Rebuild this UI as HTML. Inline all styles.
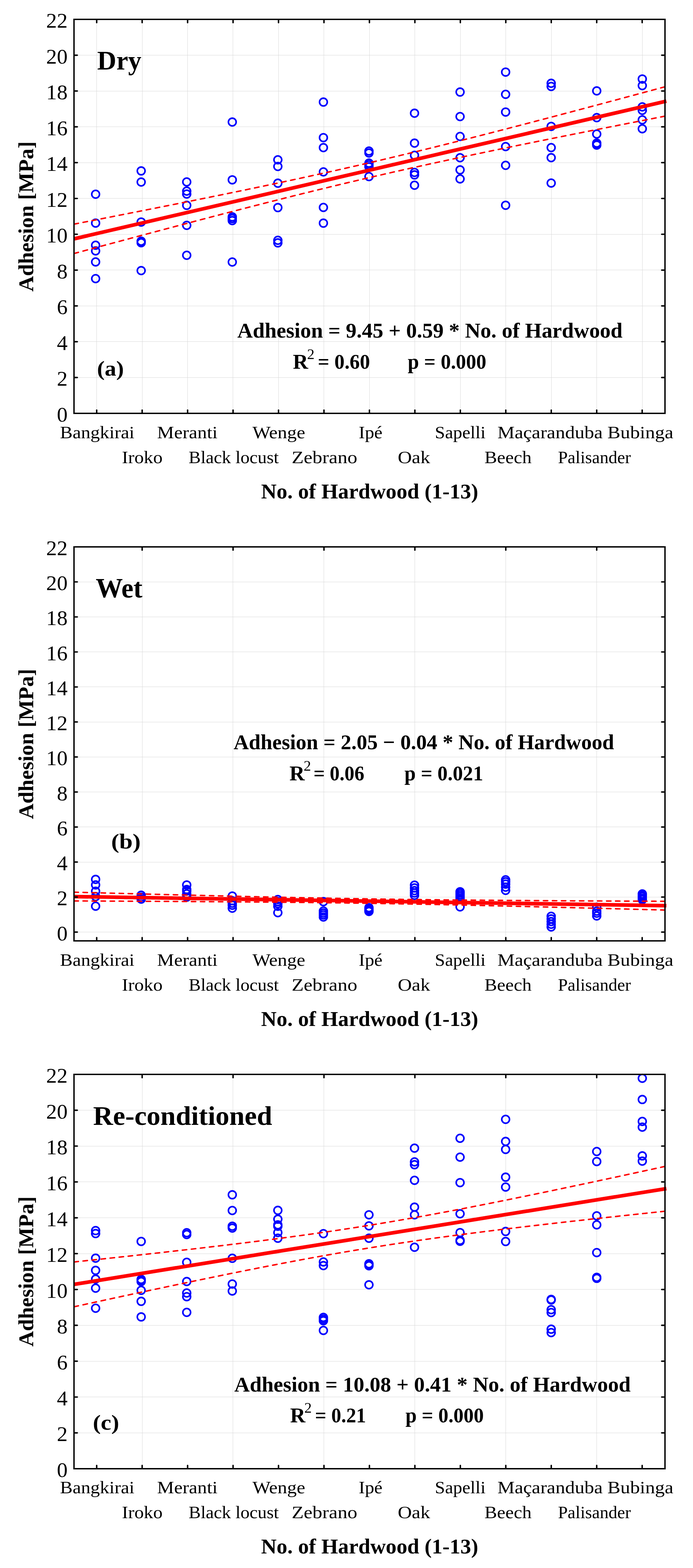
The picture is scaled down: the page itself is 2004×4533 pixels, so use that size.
<!DOCTYPE html>
<html><head><meta charset="utf-8"><title>Adhesion vs. hardwood species</title>
<style>
html,body{margin:0;padding:0;background:#fff;}
svg{display:block;}
text{font-family:"Liberation Serif","DejaVu Serif",serif;fill:#000;}
.yt{font-size:62px;text-anchor:end;}
</style></head><body>
<svg width="2004" height="4533" viewBox="0 0 2004 4533">
<rect x="0" y="0" width="2004" height="4533" fill="#fff"/>
<defs><clipPath id="pc"><rect x="216" y="0" width="1705" height="4533"/></clipPath></defs>
<path d="M279.5 56V1195M411.5 56V1195M542.5 56V1195M673.5 56V1195M805.5 56V1195M936.5 56V1195M1068.5 56V1195M1199.5 56V1195M1331.5 56V1195M1462.5 56V1195M1594.5 56V1195M1725.5 56V1195M1857.5 56V1195M214 1091.5H1923M214 987.5H1923M214 884.5H1923M214 780.5H1923M214 677.5H1923M214 573.5H1923M214 470.5H1923M214 366.5H1923M214 263.5H1923M214 159.5H1923" stroke="#d6d6d6" stroke-width="1.0" fill="none"/>
<g fill="none" stroke="#0000ff" stroke-width="4.6"><circle cx="276.5" cy="561.5" r="11.2"/><circle cx="276.5" cy="644.9" r="11.2"/><circle cx="276.5" cy="709" r="11.2"/><circle cx="276.5" cy="725.3" r="11.2"/><circle cx="276.5" cy="757.2" r="11.2"/><circle cx="276.5" cy="805.5" r="11.2"/><circle cx="408.24" cy="494.1" r="11.2"/><circle cx="408.24" cy="526.3" r="11.2"/><circle cx="408.24" cy="641.9" r="11.2"/><circle cx="408.24" cy="697.3" r="11.2"/><circle cx="408.24" cy="701.7" r="11.2"/><circle cx="408.24" cy="782.3" r="11.2"/><circle cx="539.98" cy="526" r="11.2"/><circle cx="539.98" cy="552.5" r="11.2"/><circle cx="539.98" cy="561" r="11.2"/><circle cx="539.98" cy="593.6" r="11.2"/><circle cx="539.98" cy="651.5" r="11.2"/><circle cx="539.98" cy="738" r="11.2"/><circle cx="671.72" cy="352.8" r="11.2"/><circle cx="671.72" cy="519.9" r="11.2"/><circle cx="671.72" cy="627.1" r="11.2"/><circle cx="671.72" cy="632" r="11.2"/><circle cx="671.72" cy="637.8" r="11.2"/><circle cx="671.72" cy="757.5" r="11.2"/><circle cx="803.46" cy="462" r="11.2"/><circle cx="803.46" cy="481.3" r="11.2"/><circle cx="803.46" cy="529.6" r="11.2"/><circle cx="803.46" cy="600.1" r="11.2"/><circle cx="803.46" cy="694.7" r="11.2"/><circle cx="803.46" cy="702.1" r="11.2"/><circle cx="935.2" cy="295.1" r="11.2"/><circle cx="935.2" cy="397.9" r="11.2"/><circle cx="935.2" cy="426.8" r="11.2"/><circle cx="935.2" cy="497" r="11.2"/><circle cx="935.2" cy="599.7" r="11.2"/><circle cx="935.2" cy="645.1" r="11.2"/><circle cx="1066.94" cy="436.7" r="11.2"/><circle cx="1066.94" cy="442.3" r="11.2"/><circle cx="1066.94" cy="471.6" r="11.2"/><circle cx="1066.94" cy="476.7" r="11.2"/><circle cx="1066.94" cy="482.3" r="11.2"/><circle cx="1066.94" cy="510.5" r="11.2"/><circle cx="1198.68" cy="327.3" r="11.2"/><circle cx="1198.68" cy="413.8" r="11.2"/><circle cx="1198.68" cy="449" r="11.2"/><circle cx="1198.68" cy="498.5" r="11.2"/><circle cx="1198.68" cy="505.6" r="11.2"/><circle cx="1198.68" cy="535.5" r="11.2"/><circle cx="1330.42" cy="266.1" r="11.2"/><circle cx="1330.42" cy="337" r="11.2"/><circle cx="1330.42" cy="394.5" r="11.2"/><circle cx="1330.42" cy="456" r="11.2"/><circle cx="1330.42" cy="491.1" r="11.2"/><circle cx="1330.42" cy="517.2" r="11.2"/><circle cx="1462.16" cy="208.4" r="11.2"/><circle cx="1462.16" cy="272.7" r="11.2"/><circle cx="1462.16" cy="323.9" r="11.2"/><circle cx="1462.16" cy="423.8" r="11.2"/><circle cx="1462.16" cy="478" r="11.2"/><circle cx="1462.16" cy="593.4" r="11.2"/><circle cx="1593.9" cy="240.8" r="11.2"/><circle cx="1593.9" cy="249.9" r="11.2"/><circle cx="1593.9" cy="365.4" r="11.2"/><circle cx="1593.9" cy="426.7" r="11.2"/><circle cx="1593.9" cy="455.8" r="11.2"/><circle cx="1593.9" cy="529.2" r="11.2"/><circle cx="1725.64" cy="262.8" r="11.2"/><circle cx="1725.64" cy="340.1" r="11.2"/><circle cx="1725.64" cy="387.5" r="11.2"/><circle cx="1725.64" cy="413.7" r="11.2"/><circle cx="1725.64" cy="416.4" r="11.2"/><circle cx="1725.64" cy="419.4" r="11.2"/><circle cx="1857.38" cy="228.4" r="11.2"/><circle cx="1857.38" cy="247.5" r="11.2"/><circle cx="1857.38" cy="309" r="11.2"/><circle cx="1857.38" cy="319" r="11.2"/><circle cx="1857.38" cy="346.5" r="11.2"/><circle cx="1857.38" cy="372.2" r="11.2"/></g>
<path d="M214 648L218.27 647.16L222.53 646.33L226.8 645.5M240.1 642.89L244.37 642.06L248.63 641.22L252.9 640.39M266.2 637.78L270.47 636.95L274.73 636.11L279 635.27M292.3 632.66L296.57 631.83L300.83 630.99L305.1 630.15M318.4 627.53L322.67 626.7L326.93 625.86L331.2 625.02M344.5 622.4L348.77 621.55L353.03 620.71L357.3 619.87M370.6 617.25L374.87 616.4L379.13 615.56L383.4 614.72M396.7 612.08L400.97 611.24L405.23 610.39L409.5 609.55M422.8 606.91L427.07 606.06L431.33 605.22L435.6 604.37M448.9 601.72L453.17 600.87L457.43 600.03L461.7 599.18M475 596.52L479.27 595.67L483.53 594.82L487.8 593.97M501.1 591.31L505.37 590.45L509.63 589.6L513.9 588.74M527.2 586.07L531.47 585.21L535.73 584.36L540 583.5M553.3 580.82L557.57 579.96L561.83 579.1L566.1 578.24M579.4 575.55L583.67 574.68L587.93 573.82L592.2 572.95M605.5 570.25L609.77 569.39L614.03 568.52L618.3 567.65M631.6 564.94L635.87 564.07L640.13 563.19L644.4 562.32M657.7 559.6L661.97 558.72L666.23 557.84L670.5 556.97M683.8 554.23L688.07 553.35L692.33 552.47L696.6 551.58M709.9 548.83L714.17 547.94L718.43 547.06L722.7 546.17M736 543.4L740.27 542.51L744.53 541.62L748.8 540.73M762.1 537.94L766.37 537.04L770.63 536.14L774.9 535.25M788.2 532.44L792.47 531.54L796.73 530.63L801 529.73M814.3 526.9L818.57 525.99L822.83 525.08L827.1 524.17M840.4 521.32L844.67 520.41L848.93 519.49L853.2 518.57M866.5 515.7L870.77 514.77L875.03 513.85L879.3 512.92M892.6 510.03L896.87 509.1L901.13 508.16L905.4 507.23M918.7 504.31L922.97 503.37L927.23 502.43L931.5 501.49M944.8 498.54L949.07 497.59L953.33 496.64L957.6 495.69M970.9 492.72L975.17 491.76L979.43 490.8L983.7 489.84M997 486.84L1001.27 485.87L1005.53 484.9L1009.8 483.93M1023.1 480.9L1027.37 479.93L1031.63 478.95L1035.9 477.97M1049.2 474.91L1053.47 473.92L1057.73 472.94L1062 471.95M1075.3 468.86L1079.57 467.86L1083.83 466.87L1088.1 465.87M1101.4 462.75L1105.67 461.74L1109.93 460.74L1114.2 459.73M1127.5 456.58L1131.77 455.56L1136.03 454.55L1140.3 453.53M1153.6 450.35L1157.87 449.33L1162.13 448.31L1166.4 447.28M1179.7 444.07L1183.97 443.04L1188.23 442.01L1192.5 440.97M1205.8 437.74L1210.07 436.7L1214.33 435.65L1218.6 434.61M1231.9 431.35L1236.17 430.3L1240.43 429.25L1244.7 428.2M1258 424.91L1262.27 423.85L1266.53 422.8L1270.8 421.74M1284.1 418.43L1288.37 417.36L1292.63 416.3L1296.9 415.23M1310.2 411.9L1314.47 410.82L1318.73 409.75L1323 408.68M1336.3 405.32L1340.57 404.24L1344.83 403.16L1349.1 402.08M1362.4 398.71L1366.67 397.62L1370.93 396.54L1375.2 395.45M1388.5 392.06L1392.77 390.97L1397.03 389.88L1401.3 388.78M1414.6 385.37L1418.87 384.28L1423.13 383.18L1427.4 382.08M1440.7 378.65L1444.97 377.55L1449.23 376.45L1453.5 375.35M1466.8 371.91L1471.07 370.8L1475.33 369.69L1479.6 368.59M1492.9 365.13L1497.17 364.02L1501.43 362.91L1505.7 361.8M1519 358.33L1523.27 357.21L1527.53 356.1L1531.8 354.98M1545.1 351.5L1549.37 350.38L1553.63 349.26L1557.9 348.15M1571.2 344.65L1575.47 343.53L1579.73 342.41L1584 341.29M1597.3 337.78L1601.57 336.66L1605.83 335.53L1610.1 334.41M1623.4 330.9L1627.67 329.77L1631.93 328.64L1636.2 327.51M1649.5 323.99L1653.77 322.86L1658.03 321.73L1662.3 320.6M1675.6 317.07L1679.87 315.94L1684.13 314.8L1688.4 313.67M1701.7 310.13L1705.97 309L1710.23 307.86L1714.5 306.73M1727.8 303.18L1732.07 302.05L1736.33 300.91L1740.6 299.77M1753.9 296.22L1758.17 295.08L1762.43 293.94L1766.7 292.8M1780 289.24L1784.27 288.1L1788.53 286.96L1792.8 285.82M1806.1 282.26L1810.37 281.12L1814.63 279.97L1818.9 278.83M1832.2 275.26L1836.47 274.12L1840.73 272.97L1845 271.83M1858.3 268.26L1862.57 267.11L1866.83 265.96L1871.1 264.82M1884.4 261.24L1888.67 260.09L1892.93 258.94L1897.2 257.8M1910.5 254.22L1914.77 253.07L1919.03 251.92L1923.3 250.77" stroke="#ff0000" stroke-width="4.2" fill="none" stroke-linecap="round" clip-path="url(#pc)"/>
<path d="M214 732.89L218.27 731.75L222.53 730.6L226.8 729.45M240.1 725.87L244.37 724.72L248.63 723.57L252.9 722.42M266.2 718.85L270.47 717.7L274.73 716.56L279 715.41M292.3 711.84L296.57 710.69L300.83 709.55L305.1 708.4M318.4 704.84L322.67 703.69L326.93 702.55L331.2 701.41M344.5 697.85L348.77 696.7L353.03 695.56L357.3 694.42M370.6 690.87L374.87 689.73L379.13 688.59L383.4 687.45M396.7 683.9L400.97 682.76L405.23 681.62L409.5 680.48M422.8 676.94L427.07 675.8L431.33 674.67L435.6 673.53M448.9 670L453.17 668.86L457.43 667.73L461.7 666.6M475 663.07L479.27 661.94L483.53 660.81L487.8 659.68M501.1 656.16L505.37 655.03L509.63 653.9L513.9 652.77M527.2 649.26L531.47 648.13L535.73 647.01L540 645.88M553.3 642.38L557.57 641.26L561.83 640.14L566.1 639.02M579.4 635.52L583.67 634.4L587.93 633.29L592.2 632.17M605.5 628.69L609.77 627.57L614.03 626.46L618.3 625.34M631.6 621.87L635.87 620.76L640.13 619.65L644.4 618.54M657.7 615.09L661.97 613.98L666.23 612.87L670.5 611.77M683.8 608.32L688.07 607.22L692.33 606.12L696.6 605.02M709.9 601.59L714.17 600.49L718.43 599.4L722.7 598.3M736 594.89L740.27 593.8L744.53 592.71L748.8 591.62M762.1 588.22L766.37 587.14L770.63 586.05L774.9 584.97M788.2 581.59L792.47 580.51L796.73 579.43L801 578.35M814.3 575L818.57 573.93L822.83 572.85L827.1 571.78M840.4 568.45L844.67 567.38L848.93 566.32L853.2 565.25M866.5 561.94L870.77 560.88L875.03 559.82L879.3 558.77M892.6 555.48L896.87 554.43L901.13 553.38L905.4 552.33M918.7 549.07L922.97 548.03L927.23 546.99L931.5 545.94M944.8 542.71L949.07 541.68L953.33 540.64L957.6 539.61M970.9 536.4L975.17 535.38L979.43 534.35L983.7 533.33M997 530.15L1001.27 529.14L1005.53 528.12L1009.8 527.11M1023.1 523.96L1027.37 522.95L1031.63 521.95L1035.9 520.94M1049.2 517.82L1053.47 516.82L1057.73 515.83L1062 514.83M1075.3 511.74L1079.57 510.75L1083.83 509.77L1088.1 508.78M1101.4 505.72L1105.67 504.74L1109.93 503.77L1114.2 502.79M1127.5 499.76L1131.77 498.79L1136.03 497.82L1140.3 496.86M1153.6 493.86L1157.87 492.9L1162.13 491.94L1166.4 490.98M1179.7 488.01L1183.97 487.06L1188.23 486.11L1192.5 485.16M1205.8 482.21L1210.07 481.27L1214.33 480.33L1218.6 479.39M1231.9 476.47L1236.17 475.54L1240.43 474.6L1244.7 473.67M1258 470.78L1262.27 469.85L1266.53 468.93L1270.8 468M1284.1 465.13L1288.37 464.21L1292.63 463.3L1296.9 462.38M1310.2 459.53L1314.47 458.62L1318.73 457.71L1323 456.8M1336.3 453.98L1340.57 453.07L1344.83 452.17L1349.1 451.27M1362.4 448.46L1366.67 447.56L1370.93 446.66L1375.2 445.77M1388.5 442.98L1392.77 442.09L1397.03 441.2L1401.3 440.31M1414.6 437.54L1418.87 436.65L1423.13 435.76L1427.4 434.88M1440.7 432.12L1444.97 431.24L1449.23 430.36L1453.5 429.48M1466.8 426.74L1471.07 425.87L1475.33 424.99L1479.6 424.11M1492.9 421.39L1497.17 420.52L1501.43 419.64L1505.7 418.77M1519 416.06L1523.27 415.19L1527.53 414.32L1531.8 413.46M1545.1 410.76L1549.37 409.89L1553.63 409.03L1557.9 408.16M1571.2 405.48L1575.47 404.61L1579.73 403.75L1584 402.89M1597.3 400.21L1601.57 399.36L1605.83 398.5L1610.1 397.64M1623.4 394.97L1627.67 394.12L1631.93 393.26L1636.2 392.41M1649.5 389.75L1653.77 388.89L1658.03 388.04L1662.3 387.19M1675.6 384.54L1679.87 383.69L1684.13 382.84L1688.4 381.99M1701.7 379.34L1705.97 378.5L1710.23 377.65L1714.5 376.8M1727.8 374.16L1732.07 373.32L1736.33 372.47L1740.6 371.63M1753.9 369L1758.17 368.15L1762.43 367.31L1766.7 366.47M1780 363.84L1784.27 363L1788.53 362.16L1792.8 361.32M1806.1 358.7L1810.37 357.86L1814.63 357.02L1818.9 356.18M1832.2 353.57L1836.47 352.73L1840.73 351.89L1845 351.05M1858.3 348.44L1862.57 347.61L1866.83 346.77L1871.1 345.93M1884.4 343.33L1888.67 342.49L1892.93 341.66L1897.2 340.82M1910.5 338.22L1914.77 337.39L1919.03 336.55L1923.3 335.72" stroke="#ff0000" stroke-width="4.2" fill="none" stroke-linecap="round" clip-path="url(#pc)"/>
<path d="M214 690.47L1927 292.38" stroke="#ff0000" stroke-width="10.6" fill="none"/>
<rect x="214" y="56" width="1709" height="1139" fill="none" stroke="#000" stroke-width="4"/>
<path d="M279.6 1195v-9.5M279.6 56v9.5M411.05 1195v-9.5M411.05 56v9.5M542.5 1195v-9.5M542.5 56v9.5M673.95 1195v-9.5M673.95 56v9.5M805.4 1195v-9.5M805.4 56v9.5M936.85 1195v-9.5M936.85 56v9.5M1068.3 1195v-9.5M1068.3 56v9.5M1199.75 1195v-9.5M1199.75 56v9.5M1331.2 1195v-9.5M1331.2 56v9.5M1462.65 1195v-9.5M1462.65 56v9.5M1594.1 1195v-9.5M1594.1 56v9.5M1725.55 1195v-9.5M1725.55 56v9.5M1857 1195v-9.5M1857 56v9.5M214 1091.45h9.5M1923 1091.45h-9.5M214 987.91h9.5M1923 987.91h-9.5M214 884.36h9.5M1923 884.36h-9.5M214 780.82h9.5M1923 780.82h-9.5M214 677.27h9.5M1923 677.27h-9.5M214 573.73h9.5M1923 573.73h-9.5M214 470.18h9.5M1923 470.18h-9.5M214 366.64h9.5M1923 366.64h-9.5M214 263.09h9.5M1923 263.09h-9.5M214 159.55h9.5M1923 159.55h-9.5" stroke="#000" stroke-width="4.2" stroke-linecap="round" fill="none"/>
<text class="yt" x="195.5" y="1219">0</text><text class="yt" x="195.5" y="1115.45">2</text><text class="yt" x="195.5" y="1011.91">4</text><text class="yt" x="195.5" y="908.36">6</text><text class="yt" x="195.5" y="804.82">8</text><text class="yt" x="195.5" y="701.27">10</text><text class="yt" x="195.5" y="597.73">12</text><text class="yt" x="195.5" y="494.18">14</text><text class="yt" x="195.5" y="390.64">16</text><text class="yt" x="195.5" y="287.09">18</text><text class="yt" x="195.5" y="183.55">20</text><text class="yt" x="195.5" y="80">22</text>
<path d="M411.5 1581V2720M673.5 1581V2720M936.5 1581V2720M1199.5 1581V2720M1462.5 1581V2720M1725.5 1581V2720M214 2694.5H1923M214 2593.5H1923M214 2492.5H1923M214 2390.5H1923M214 2289.5H1923M214 2188.5H1923M214 2087.5H1923M214 1985.5H1923M214 1884.5H1923M214 1783.5H1923M214 1682.5H1923" stroke="#d6d6d6" stroke-width="1.0" fill="none"/>
<g fill="none" stroke="#0000ff" stroke-width="4.6"><circle cx="276.5" cy="2542.3" r="11.2"/><circle cx="276.5" cy="2558.3" r="11.2"/><circle cx="276.5" cy="2576.5" r="11.2"/><circle cx="276.5" cy="2592" r="11.2"/><circle cx="276.5" cy="2619.7" r="11.2"/><circle cx="408.24" cy="2588" r="11.2"/><circle cx="408.24" cy="2593.7" r="11.2"/><circle cx="408.24" cy="2599.2" r="11.2"/><circle cx="539.98" cy="2558.4" r="11.2"/><circle cx="539.98" cy="2571.4" r="11.2"/><circle cx="539.98" cy="2576" r="11.2"/><circle cx="539.98" cy="2584" r="11.2"/><circle cx="539.98" cy="2593.4" r="11.2"/><circle cx="671.72" cy="2590.4" r="11.2"/><circle cx="671.72" cy="2604" r="11.2"/><circle cx="671.72" cy="2611" r="11.2"/><circle cx="671.72" cy="2617" r="11.2"/><circle cx="671.72" cy="2625.5" r="11.2"/><circle cx="803.46" cy="2600.5" r="11.2"/><circle cx="803.46" cy="2606.6" r="11.2"/><circle cx="803.46" cy="2612.4" r="11.2"/><circle cx="803.46" cy="2620" r="11.2"/><circle cx="803.46" cy="2638.5" r="11.2"/><circle cx="935.2" cy="2606.6" r="11.2"/><circle cx="935.2" cy="2633.7" r="11.2"/><circle cx="935.2" cy="2639.5" r="11.2"/><circle cx="935.2" cy="2645" r="11.2"/><circle cx="935.2" cy="2651" r="11.2"/><circle cx="1066.94" cy="2624" r="11.2"/><circle cx="1066.94" cy="2628" r="11.2"/><circle cx="1066.94" cy="2632" r="11.2"/><circle cx="1066.94" cy="2635" r="11.2"/><circle cx="1198.68" cy="2558.9" r="11.2"/><circle cx="1198.68" cy="2567" r="11.2"/><circle cx="1198.68" cy="2574.8" r="11.2"/><circle cx="1198.68" cy="2581.5" r="11.2"/><circle cx="1198.68" cy="2588.3" r="11.2"/><circle cx="1330.42" cy="2577.9" r="11.2"/><circle cx="1330.42" cy="2582" r="11.2"/><circle cx="1330.42" cy="2587" r="11.2"/><circle cx="1330.42" cy="2592" r="11.2"/><circle cx="1330.42" cy="2597" r="11.2"/><circle cx="1330.42" cy="2621.8" r="11.2"/><circle cx="1462.16" cy="2543.5" r="11.2"/><circle cx="1462.16" cy="2549.3" r="11.2"/><circle cx="1462.16" cy="2556" r="11.2"/><circle cx="1462.16" cy="2564.8" r="11.2"/><circle cx="1462.16" cy="2574" r="11.2"/><circle cx="1593.9" cy="2648.9" r="11.2"/><circle cx="1593.9" cy="2656.6" r="11.2"/><circle cx="1593.9" cy="2664.3" r="11.2"/><circle cx="1593.9" cy="2672" r="11.2"/><circle cx="1593.9" cy="2679.8" r="11.2"/><circle cx="1725.64" cy="2622.8" r="11.2"/><circle cx="1725.64" cy="2634" r="11.2"/><circle cx="1725.64" cy="2640" r="11.2"/><circle cx="1725.64" cy="2647.9" r="11.2"/><circle cx="1857.38" cy="2584.3" r="11.2"/><circle cx="1857.38" cy="2588" r="11.2"/><circle cx="1857.38" cy="2592" r="11.2"/><circle cx="1857.38" cy="2597" r="11.2"/><circle cx="1857.38" cy="2601" r="11.2"/></g>
<path d="M214 2579.27L218.27 2579.39L222.53 2579.5L226.8 2579.61M240.1 2579.96L244.37 2580.07L248.63 2580.19L252.9 2580.3M266.2 2580.65L270.47 2580.76L274.73 2580.87L279 2580.98M292.3 2581.33L296.57 2581.44L300.83 2581.56L305.1 2581.67M318.4 2582.01L322.67 2582.12L326.93 2582.24L331.2 2582.35M344.5 2582.69L348.77 2582.8L353.03 2582.91L357.3 2583.02M370.6 2583.37L374.87 2583.48L379.13 2583.59L383.4 2583.7M396.7 2584.04L400.97 2584.15L405.23 2584.26L409.5 2584.37M422.8 2584.71L427.07 2584.82L431.33 2584.92L435.6 2585.03M448.9 2585.37L453.17 2585.48L457.43 2585.59L461.7 2585.69M475 2586.03L479.27 2586.14L483.53 2586.24L487.8 2586.35M501.1 2586.68L505.37 2586.79L509.63 2586.9L513.9 2587M527.2 2587.33L531.47 2587.44L535.73 2587.55L540 2587.65M553.3 2587.98L557.57 2588.08L561.83 2588.19L566.1 2588.29M579.4 2588.62L583.67 2588.72L587.93 2588.82L592.2 2588.93M605.5 2589.25L609.77 2589.35L614.03 2589.45L618.3 2589.56M631.6 2589.87L635.87 2589.98L640.13 2590.08L644.4 2590.18M657.7 2590.49L661.97 2590.59L666.23 2590.69L670.5 2590.79M683.8 2591.1L688.07 2591.2L692.33 2591.3L696.6 2591.4M709.9 2591.7L714.17 2591.8L718.43 2591.9L722.7 2591.99M736 2592.29L740.27 2592.39L744.53 2592.49L748.8 2592.58M762.1 2592.88L766.37 2592.97L770.63 2593.06L774.9 2593.16M788.2 2593.45L792.47 2593.54L796.73 2593.63L801 2593.72M814.3 2594.01L818.57 2594.1L822.83 2594.19L827.1 2594.28M840.4 2594.55L844.67 2594.64L848.93 2594.73L853.2 2594.82M866.5 2595.09L870.77 2595.17L875.03 2595.26L879.3 2595.34M892.6 2595.61L896.87 2595.69L901.13 2595.77L905.4 2595.86M918.7 2596.11L922.97 2596.19L927.23 2596.27L931.5 2596.35M944.8 2596.6L949.07 2596.68L953.33 2596.76L957.6 2596.84M970.9 2597.08L975.17 2597.15L979.43 2597.23L983.7 2597.3M997 2597.53L1001.27 2597.61L1005.53 2597.68L1009.8 2597.75M1023.1 2597.97L1027.37 2598.04L1031.63 2598.11L1035.9 2598.18M1049.2 2598.4L1053.47 2598.46L1057.73 2598.53L1062 2598.6M1075.3 2598.8L1079.57 2598.87L1083.83 2598.93L1088.1 2599M1101.4 2599.19L1105.67 2599.25L1109.93 2599.32L1114.2 2599.38M1127.5 2599.56L1131.77 2599.62L1136.03 2599.68L1140.3 2599.74M1153.6 2599.92L1157.87 2599.97L1162.13 2600.03L1166.4 2600.09M1179.7 2600.26L1183.97 2600.31L1188.23 2600.36L1192.5 2600.41M1205.8 2600.58L1210.07 2600.63L1214.33 2600.68L1218.6 2600.73M1231.9 2600.88L1236.17 2600.93L1240.43 2600.98L1244.7 2601.03M1258 2601.17L1262.27 2601.22L1266.53 2601.27L1270.8 2601.31M1284.1 2601.45L1288.37 2601.49L1292.63 2601.54L1296.9 2601.58M1310.2 2601.71L1314.47 2601.76L1318.73 2601.8L1323 2601.84M1336.3 2601.96L1340.57 2602L1344.83 2602.04L1349.1 2602.08M1362.4 2602.2L1366.67 2602.24L1370.93 2602.28L1375.2 2602.32M1388.5 2602.43L1392.77 2602.47L1397.03 2602.5L1401.3 2602.54M1414.6 2602.65L1418.87 2602.68L1423.13 2602.72L1427.4 2602.75M1440.7 2602.85L1444.97 2602.89L1449.23 2602.92L1453.5 2602.95M1466.8 2603.05L1471.07 2603.08L1475.33 2603.12L1479.6 2603.15M1492.9 2603.24L1497.17 2603.27L1501.43 2603.3L1505.7 2603.33M1519 2603.42L1523.27 2603.45L1527.53 2603.48L1531.8 2603.51M1545.1 2603.6L1549.37 2603.63L1553.63 2603.66L1557.9 2603.68M1571.2 2603.77L1575.47 2603.8L1579.73 2603.82L1584 2603.85M1597.3 2603.93L1601.57 2603.96L1605.83 2603.98L1610.1 2604.01M1623.4 2604.09L1627.67 2604.11L1631.93 2604.14L1636.2 2604.16M1649.5 2604.24L1653.77 2604.26L1658.03 2604.29L1662.3 2604.31M1675.6 2604.39L1679.87 2604.41L1684.13 2604.43L1688.4 2604.46M1701.7 2604.53L1705.97 2604.55L1710.23 2604.57L1714.5 2604.6M1727.8 2604.67L1732.07 2604.69L1736.33 2604.71L1740.6 2604.73M1753.9 2604.8L1758.17 2604.82L1762.43 2604.84L1766.7 2604.87M1780 2604.93L1784.27 2604.95L1788.53 2604.97L1792.8 2604.99M1806.1 2605.06L1810.37 2605.08L1814.63 2605.1L1818.9 2605.12M1832.2 2605.18L1836.47 2605.2L1840.73 2605.22L1845 2605.24M1858.3 2605.3L1862.57 2605.32L1866.83 2605.34L1871.1 2605.36M1884.4 2605.42L1888.67 2605.44L1892.93 2605.46L1897.2 2605.48M1910.5 2605.54L1914.77 2605.56L1919.03 2605.58L1923.3 2605.6" stroke="#ff0000" stroke-width="4.2" fill="none" stroke-linecap="round" clip-path="url(#pc)"/>
<path d="M214 2604.58L218.27 2604.6L222.53 2604.62L226.8 2604.64M240.1 2604.7L244.37 2604.72L248.63 2604.74L252.9 2604.75M266.2 2604.81L270.47 2604.83L274.73 2604.85L279 2604.87M292.3 2604.93L296.57 2604.95L300.83 2604.97L305.1 2604.99M318.4 2605.06L322.67 2605.08L326.93 2605.1L331.2 2605.12M344.5 2605.18L348.77 2605.2L353.03 2605.23L357.3 2605.25M370.6 2605.31L374.87 2605.33L379.13 2605.36L383.4 2605.38M396.7 2605.45L400.97 2605.47L405.23 2605.49L409.5 2605.51M422.8 2605.58L427.07 2605.6L431.33 2605.63L435.6 2605.65M448.9 2605.72L453.17 2605.75L457.43 2605.77L461.7 2605.79M475 2605.87L479.27 2605.89L483.53 2605.92L487.8 2605.94M501.1 2606.02L505.37 2606.04L509.63 2606.07L513.9 2606.09M527.2 2606.17L531.47 2606.2L535.73 2606.22L540 2606.25M553.3 2606.33L557.57 2606.36L561.83 2606.38L566.1 2606.41M579.4 2606.5L583.67 2606.52L587.93 2606.55L592.2 2606.58M605.5 2606.67L609.77 2606.7L614.03 2606.73L618.3 2606.75M631.6 2606.85L635.87 2606.88L640.13 2606.91L644.4 2606.94M657.7 2607.03L661.97 2607.06L666.23 2607.1L670.5 2607.13M683.8 2607.23L688.07 2607.26L692.33 2607.29L696.6 2607.33M709.9 2607.43L714.17 2607.46L718.43 2607.5L722.7 2607.53M736 2607.64L740.27 2607.68L744.53 2607.71L748.8 2607.75M762.1 2607.87L766.37 2607.9L770.63 2607.94L774.9 2607.98M788.2 2608.1L792.47 2608.14L796.73 2608.18L801 2608.22M814.3 2608.34L818.57 2608.39L822.83 2608.43L827.1 2608.47M840.4 2608.6L844.67 2608.64L848.93 2608.69L853.2 2608.73M866.5 2608.87L870.77 2608.92L875.03 2608.96L879.3 2609.01M892.6 2609.16L896.87 2609.2L901.13 2609.25L905.4 2609.3M918.7 2609.45L922.97 2609.51L927.23 2609.56L931.5 2609.61M944.8 2609.77L949.07 2609.82L953.33 2609.88L957.6 2609.93M970.9 2610.1L975.17 2610.15L979.43 2610.21L983.7 2610.27M997 2610.45L1001.27 2610.5L1005.53 2610.56L1009.8 2610.62M1023.1 2610.81L1027.37 2610.87L1031.63 2610.93L1035.9 2610.99M1049.2 2611.19L1053.47 2611.25L1057.73 2611.32L1062 2611.38M1075.3 2611.59L1079.57 2611.65L1083.83 2611.72L1088.1 2611.79M1101.4 2612L1105.67 2612.07L1109.93 2612.14L1114.2 2612.21M1127.5 2612.44L1131.77 2612.51L1136.03 2612.58L1140.3 2612.65M1153.6 2612.89L1157.87 2612.96L1162.13 2613.04L1166.4 2613.11M1179.7 2613.35L1183.97 2613.43L1188.23 2613.51L1192.5 2613.59M1205.8 2613.83L1210.07 2613.92L1214.33 2614L1218.6 2614.08M1231.9 2614.33L1236.17 2614.42L1240.43 2614.5L1244.7 2614.58M1258 2614.85L1262.27 2614.93L1266.53 2615.02L1270.8 2615.1M1284.1 2615.37L1288.37 2615.46L1292.63 2615.55L1296.9 2615.64M1310.2 2615.91L1314.47 2616L1318.73 2616.09L1323 2616.18M1336.3 2616.47L1340.57 2616.56L1344.83 2616.65L1349.1 2616.74M1362.4 2617.03L1366.67 2617.13L1370.93 2617.22L1375.2 2617.31M1388.5 2617.61L1392.77 2617.71L1397.03 2617.8L1401.3 2617.9M1414.6 2618.2L1418.87 2618.29L1423.13 2618.39L1427.4 2618.49M1440.7 2618.79L1444.97 2618.89L1449.23 2618.99L1453.5 2619.09M1466.8 2619.4L1471.07 2619.5L1475.33 2619.6L1479.6 2619.7M1492.9 2620.01L1497.17 2620.11L1501.43 2620.22L1505.7 2620.32M1519 2620.64L1523.27 2620.74L1527.53 2620.84L1531.8 2620.94M1545.1 2621.26L1549.37 2621.37L1553.63 2621.47L1557.9 2621.58M1571.2 2621.9L1575.47 2622L1579.73 2622.11L1584 2622.21M1597.3 2622.54L1601.57 2622.65L1605.83 2622.75L1610.1 2622.86M1623.4 2623.19L1627.67 2623.3L1631.93 2623.4L1636.2 2623.51M1649.5 2623.84L1653.77 2623.95L1658.03 2624.06L1662.3 2624.16M1675.6 2624.5L1679.87 2624.61L1684.13 2624.71L1688.4 2624.82M1701.7 2625.16L1705.97 2625.27L1710.23 2625.38L1714.5 2625.49M1727.8 2625.83L1732.07 2625.94L1736.33 2626.05L1740.6 2626.15M1753.9 2626.5L1758.17 2626.61L1762.43 2626.72L1766.7 2626.83M1780 2627.17L1784.27 2627.28L1788.53 2627.39L1792.8 2627.5M1806.1 2627.85L1810.37 2627.96L1814.63 2628.07L1818.9 2628.18M1832.2 2628.53L1836.47 2628.64L1840.73 2628.75L1845 2628.86M1858.3 2629.21L1862.57 2629.32L1866.83 2629.43L1871.1 2629.54M1884.4 2629.89L1888.67 2630.01L1892.93 2630.12L1897.2 2630.23M1910.5 2630.58L1914.77 2630.69L1919.03 2630.81L1923.3 2630.92" stroke="#ff0000" stroke-width="4.2" fill="none" stroke-linecap="round" clip-path="url(#pc)"/>
<path d="M214 2591.93L1927 2618.32" stroke="#ff0000" stroke-width="10.6" fill="none"/>
<rect x="214" y="1581" width="1709" height="1139" fill="none" stroke="#000" stroke-width="4"/>
<path d="M279.6 2720v-9.5M411.05 2720v-9.5M411.05 1581v9.5M542.5 2720v-9.5M673.95 2720v-9.5M673.95 1581v9.5M805.4 2720v-9.5M936.85 2720v-9.5M936.85 1581v9.5M1068.3 2720v-9.5M1199.75 2720v-9.5M1199.75 1581v9.5M1331.2 2720v-9.5M1462.65 2720v-9.5M1462.65 1581v9.5M1594.1 2720v-9.5M1725.55 2720v-9.5M1725.55 1581v9.5M1857 2720v-9.5M214 2694.69h9.5M1923 2694.69h-9.5M214 2593.44h9.5M1923 2593.44h-9.5M214 2492.2h9.5M1923 2492.2h-9.5M214 2390.96h9.5M1923 2390.96h-9.5M214 2289.71h9.5M1923 2289.71h-9.5M214 2188.47h9.5M1923 2188.47h-9.5M214 2087.22h9.5M1923 2087.22h-9.5M214 1985.98h9.5M1923 1985.98h-9.5M214 1884.73h9.5M1923 1884.73h-9.5M214 1783.49h9.5M1923 1783.49h-9.5M214 1682.24h9.5M1923 1682.24h-9.5" stroke="#000" stroke-width="4.2" stroke-linecap="round" fill="none"/>
<text class="yt" x="195.5" y="2718.69">0</text><text class="yt" x="195.5" y="2617.44">2</text><text class="yt" x="195.5" y="2516.2">4</text><text class="yt" x="195.5" y="2414.96">6</text><text class="yt" x="195.5" y="2313.71">8</text><text class="yt" x="195.5" y="2212.47">10</text><text class="yt" x="195.5" y="2111.22">12</text><text class="yt" x="195.5" y="2009.98">14</text><text class="yt" x="195.5" y="1908.73">16</text><text class="yt" x="195.5" y="1807.49">18</text><text class="yt" x="195.5" y="1706.24">20</text><text class="yt" x="195.5" y="1605">22</text>
<path d="M411.5 3106V4246M673.5 3106V4246M936.5 3106V4246M1199.5 3106V4246M1462.5 3106V4246M1725.5 3106V4246M214 4142.5H1923M214 4038.5H1923M214 3935.5H1923M214 3831.5H1923M214 3727.5H1923M214 3624.5H1923M214 3520.5H1923M214 3416.5H1923M214 3313.5H1923M214 3209.5H1923" stroke="#d6d6d6" stroke-width="1.0" fill="none"/>
<g fill="none" stroke="#0000ff" stroke-width="4.6"><circle cx="276.5" cy="3557.6" r="11.2"/><circle cx="276.5" cy="3566.1" r="11.2"/><circle cx="276.5" cy="3637.3" r="11.2"/><circle cx="276.5" cy="3672.6" r="11.2"/><circle cx="276.5" cy="3697.8" r="11.2"/><circle cx="276.5" cy="3724" r="11.2"/><circle cx="276.5" cy="3782" r="11.2"/><circle cx="408.24" cy="3588.9" r="11.2"/><circle cx="408.24" cy="3698.6" r="11.2"/><circle cx="408.24" cy="3701.5" r="11.2"/><circle cx="408.24" cy="3705" r="11.2"/><circle cx="408.24" cy="3730.2" r="11.2"/><circle cx="408.24" cy="3762.1" r="11.2"/><circle cx="408.24" cy="3807.1" r="11.2"/><circle cx="539.98" cy="3563.8" r="11.2"/><circle cx="539.98" cy="3569" r="11.2"/><circle cx="539.98" cy="3649.2" r="11.2"/><circle cx="539.98" cy="3704.8" r="11.2"/><circle cx="539.98" cy="3738" r="11.2"/><circle cx="539.98" cy="3748.7" r="11.2"/><circle cx="539.98" cy="3794" r="11.2"/><circle cx="671.72" cy="3454.1" r="11.2"/><circle cx="671.72" cy="3499.5" r="11.2"/><circle cx="671.72" cy="3544.9" r="11.2"/><circle cx="671.72" cy="3550.3" r="11.2"/><circle cx="671.72" cy="3637.6" r="11.2"/><circle cx="671.72" cy="3712" r="11.2"/><circle cx="671.72" cy="3732.2" r="11.2"/><circle cx="803.46" cy="3499.1" r="11.2"/><circle cx="803.46" cy="3524.6" r="11.2"/><circle cx="803.46" cy="3541" r="11.2"/><circle cx="803.46" cy="3545" r="11.2"/><circle cx="803.46" cy="3563.2" r="11.2"/><circle cx="803.46" cy="3579.6" r="11.2"/><circle cx="935.2" cy="3566.5" r="11.2"/><circle cx="935.2" cy="3648.2" r="11.2"/><circle cx="935.2" cy="3658.8" r="11.2"/><circle cx="935.2" cy="3808.5" r="11.2"/><circle cx="935.2" cy="3813.4" r="11.2"/><circle cx="935.2" cy="3818.2" r="11.2"/><circle cx="935.2" cy="3846.2" r="11.2"/><circle cx="1066.94" cy="3512" r="11.2"/><circle cx="1066.94" cy="3543.9" r="11.2"/><circle cx="1066.94" cy="3579.6" r="11.2"/><circle cx="1066.94" cy="3653.5" r="11.2"/><circle cx="1066.94" cy="3656" r="11.2"/><circle cx="1066.94" cy="3659.2" r="11.2"/><circle cx="1066.94" cy="3714.3" r="11.2"/><circle cx="1198.68" cy="3319.2" r="11.2"/><circle cx="1198.68" cy="3359" r="11.2"/><circle cx="1198.68" cy="3367.1" r="11.2"/><circle cx="1198.68" cy="3412.2" r="11.2"/><circle cx="1198.68" cy="3489.8" r="11.2"/><circle cx="1198.68" cy="3512" r="11.2"/><circle cx="1198.68" cy="3605.7" r="11.2"/><circle cx="1330.42" cy="3290.7" r="11.2"/><circle cx="1330.42" cy="3345.2" r="11.2"/><circle cx="1330.42" cy="3418.9" r="11.2"/><circle cx="1330.42" cy="3509" r="11.2"/><circle cx="1330.42" cy="3563.4" r="11.2"/><circle cx="1330.42" cy="3585.6" r="11.2"/><circle cx="1330.42" cy="3588.5" r="11.2"/><circle cx="1462.16" cy="3236" r="11.2"/><circle cx="1462.16" cy="3299.8" r="11.2"/><circle cx="1462.16" cy="3322.9" r="11.2"/><circle cx="1462.16" cy="3403.1" r="11.2"/><circle cx="1462.16" cy="3431.7" r="11.2"/><circle cx="1462.16" cy="3560.1" r="11.2"/><circle cx="1462.16" cy="3589.1" r="11.2"/><circle cx="1593.9" cy="3756.5" r="11.2"/><circle cx="1593.9" cy="3758.2" r="11.2"/><circle cx="1593.9" cy="3786.2" r="11.2"/><circle cx="1593.9" cy="3794.5" r="11.2"/><circle cx="1593.9" cy="3842.6" r="11.2"/><circle cx="1593.9" cy="3852.5" r="11.2"/><circle cx="1725.64" cy="3329" r="11.2"/><circle cx="1725.64" cy="3357.9" r="11.2"/><circle cx="1725.64" cy="3515" r="11.2"/><circle cx="1725.64" cy="3541" r="11.2"/><circle cx="1725.64" cy="3621.2" r="11.2"/><circle cx="1725.64" cy="3692.7" r="11.2"/><circle cx="1725.64" cy="3695.6" r="11.2"/><circle cx="1857.38" cy="3117.2" r="11.2"/><circle cx="1857.38" cy="3178.6" r="11.2"/><circle cx="1857.38" cy="3242" r="11.2"/><circle cx="1857.38" cy="3258.5" r="11.2"/><circle cx="1857.38" cy="3341.6" r="11.2"/><circle cx="1857.38" cy="3356.8" r="11.2"/></g>
<path d="M214 3648.26L218.27 3647.82L222.53 3647.37L226.8 3646.92M240.1 3645.51L244.37 3645.06L248.63 3644.61L252.9 3644.16M266.2 3642.75L270.47 3642.3L274.73 3641.84L279 3641.39M292.3 3639.98L296.57 3639.52L300.83 3639.06L305.1 3638.61M318.4 3637.18L322.67 3636.73L326.93 3636.27L331.2 3635.81M344.5 3634.38L348.77 3633.92L353.03 3633.46L357.3 3633M370.6 3631.56L374.87 3631.1L379.13 3630.63L383.4 3630.17M396.7 3628.72L400.97 3628.25L405.23 3627.79L409.5 3627.32M422.8 3625.86L427.07 3625.39L431.33 3624.92L435.6 3624.45M448.9 3622.98L453.17 3622.51L457.43 3622.04L461.7 3621.56M475 3620.08L479.27 3619.6L483.53 3619.13L487.8 3618.65M501.1 3617.16L505.37 3616.68L509.63 3616.19L513.9 3615.71M527.2 3614.21L531.47 3613.72L535.73 3613.23L540 3612.75M553.3 3611.23L557.57 3610.74L561.83 3610.25L566.1 3609.76M579.4 3608.22L583.67 3607.72L587.93 3607.23L592.2 3606.73M605.5 3605.18L609.77 3604.68L614.03 3604.18L618.3 3603.67M631.6 3602.1L635.87 3601.59L640.13 3601.09L644.4 3600.58M657.7 3598.99L661.97 3598.47L666.23 3597.96L670.5 3597.44M683.8 3595.83L688.07 3595.31L692.33 3594.79L696.6 3594.27M709.9 3592.63L714.17 3592.1L718.43 3591.57L722.7 3591.04M736 3589.38L740.27 3588.85L744.53 3588.31L748.8 3587.77M762.1 3586.08L766.37 3585.54L770.63 3584.99L774.9 3584.44M788.2 3582.73L792.47 3582.17L796.73 3581.62L801 3581.06M814.3 3579.31L818.57 3578.75L822.83 3578.18L827.1 3577.62M840.4 3575.84L844.67 3575.26L848.93 3574.69L853.2 3574.11M866.5 3572.29L870.77 3571.71L875.03 3571.12L879.3 3570.53M892.6 3568.68L896.87 3568.08L901.13 3567.48L905.4 3566.88M918.7 3564.99L922.97 3564.38L927.23 3563.76L931.5 3563.15M944.8 3561.22L949.07 3560.59L953.33 3559.97L957.6 3559.34M970.9 3557.37L975.17 3556.73L979.43 3556.09L983.7 3555.45M997 3553.43L1001.27 3552.78L1005.53 3552.13L1009.8 3551.47M1023.1 3549.41L1027.37 3548.75L1031.63 3548.08L1035.9 3547.41M1049.2 3545.3L1053.47 3544.62L1057.73 3543.94L1062 3543.26M1075.3 3541.11L1079.57 3540.41L1083.83 3539.71L1088.1 3539.02M1101.4 3536.82L1105.67 3536.11L1109.93 3535.4L1114.2 3534.68M1127.5 3532.44L1131.77 3531.72L1136.03 3530.99L1140.3 3530.27M1153.6 3527.98L1157.87 3527.24L1162.13 3526.5L1166.4 3525.76M1179.7 3523.43L1183.97 3522.68L1188.23 3521.93L1192.5 3521.17M1205.8 3518.8L1210.07 3518.04L1214.33 3517.27L1218.6 3516.5M1231.9 3514.09L1236.17 3513.32L1240.43 3512.54L1244.7 3511.75M1258 3509.31L1262.27 3508.52L1266.53 3507.72L1270.8 3506.93M1284.1 3504.45L1288.37 3503.64L1292.63 3502.84L1296.9 3502.04M1310.2 3499.52L1314.47 3498.7L1318.73 3497.89L1323 3497.08M1336.3 3494.52L1340.57 3493.7L1344.83 3492.88L1349.1 3492.05M1362.4 3489.47L1366.67 3488.64L1370.93 3487.8L1375.2 3486.97M1388.5 3484.36L1392.77 3483.51L1397.03 3482.67L1401.3 3481.83M1414.6 3479.19L1418.87 3478.34L1423.13 3477.49L1427.4 3476.64M1440.7 3473.98L1444.97 3473.12L1449.23 3472.26L1453.5 3471.4M1466.8 3468.71L1471.07 3467.85L1475.33 3466.98L1479.6 3466.12M1492.9 3463.41L1497.17 3462.54L1501.43 3461.67L1505.7 3460.8M1519 3458.07L1523.27 3457.19L1527.53 3456.31L1531.8 3455.43M1545.1 3452.69L1549.37 3451.81L1553.63 3450.92L1557.9 3450.04M1571.2 3447.27L1575.47 3446.39L1579.73 3445.5L1584 3444.61M1597.3 3441.83L1601.57 3440.94L1605.83 3440.04L1610.1 3439.15M1623.4 3436.36L1627.67 3435.46L1631.93 3434.56L1636.2 3433.66M1649.5 3430.86L1653.77 3429.95L1658.03 3429.05L1662.3 3428.15M1675.6 3425.33L1679.87 3424.43L1684.13 3423.52L1688.4 3422.61M1701.7 3419.78L1705.97 3418.87L1710.23 3417.96L1714.5 3417.05M1727.8 3414.21L1732.07 3413.3L1736.33 3412.39L1740.6 3411.48M1753.9 3408.63L1758.17 3407.71L1762.43 3406.79L1766.7 3405.88M1780 3403.02L1784.27 3402.1L1788.53 3401.18L1792.8 3400.26M1806.1 3397.39L1810.37 3396.47L1814.63 3395.55L1818.9 3394.63M1832.2 3391.75L1836.47 3390.83L1840.73 3389.91L1845 3388.98M1858.3 3386.1L1862.57 3385.17L1866.83 3384.25L1871.1 3383.32M1884.4 3380.43L1888.67 3379.5L1892.93 3378.58L1897.2 3377.65M1910.5 3374.75L1914.77 3373.82L1919.03 3372.89L1923.3 3371.96" stroke="#ff0000" stroke-width="4.2" fill="none" stroke-linecap="round" clip-path="url(#pc)"/>
<path d="M214 3777.8L218.27 3776.87L222.53 3775.94L226.8 3775.01M240.1 3772.11L244.37 3771.18L248.63 3770.25L252.9 3769.32M266.2 3766.44L270.47 3765.51L274.73 3764.58L279 3763.66M292.3 3760.77L296.57 3759.85L300.83 3758.93L305.1 3758M318.4 3755.13L322.67 3754.21L326.93 3753.28L331.2 3752.36M344.5 3749.5L348.77 3748.58L353.03 3747.66L357.3 3746.74M370.6 3743.88L374.87 3742.96L379.13 3742.05L383.4 3741.13M396.7 3738.28L400.97 3737.37L405.23 3736.46L409.5 3735.55M422.8 3732.71L427.07 3731.8L431.33 3730.89L435.6 3729.98M448.9 3727.15L453.17 3726.24L457.43 3725.33L461.7 3724.43M475 3721.61L479.27 3720.71L483.53 3719.81L487.8 3718.9M501.1 3716.1L505.37 3715.2L509.63 3714.3L513.9 3713.41M527.2 3710.61L531.47 3709.72L535.73 3708.83L540 3707.93M553.3 3705.15L557.57 3704.27L561.83 3703.38L566.1 3702.49M579.4 3699.73L583.67 3698.84L587.93 3697.96L592.2 3697.08M605.5 3694.33L609.77 3693.45L614.03 3692.57L618.3 3691.7M631.6 3688.97L635.87 3688.1L640.13 3687.23L644.4 3686.36M657.7 3683.65L661.97 3682.78L666.23 3681.92L670.5 3681.05M683.8 3678.37L688.07 3677.51L692.33 3676.65L696.6 3675.79M709.9 3673.13L714.17 3672.28L718.43 3671.43L722.7 3670.58M736 3667.94L740.27 3667.1L744.53 3666.26L748.8 3665.42M762.1 3662.8L766.37 3661.97L770.63 3661.14L774.9 3660.31M788.2 3657.72L792.47 3656.9L796.73 3656.07L801 3655.25M814.3 3652.7L818.57 3651.88L822.83 3651.07L827.1 3650.26M840.4 3647.74L844.67 3646.94L848.93 3646.13L853.2 3645.33M866.5 3642.85L870.77 3642.05L875.03 3641.26L879.3 3640.47M892.6 3638.03L896.87 3637.25L901.13 3636.47L905.4 3635.69M918.7 3633.28L922.97 3632.51L927.23 3631.74L931.5 3630.98M944.8 3628.61L949.07 3627.86L953.33 3627.1L957.6 3626.35M970.9 3624.03L975.17 3623.28L979.43 3622.54L983.7 3621.81M997 3619.52L1001.27 3618.79L1005.53 3618.07L1009.8 3617.35M1023.1 3615.11L1027.37 3614.39L1031.63 3613.68L1035.9 3612.97M1049.2 3610.78L1053.47 3610.08L1057.73 3609.38L1062 3608.69M1075.3 3606.54L1079.57 3605.86L1083.83 3605.17L1088.1 3604.49M1101.4 3602.39L1105.67 3601.72L1109.93 3601.05L1114.2 3600.39M1127.5 3598.33L1131.77 3597.67L1136.03 3597.02L1140.3 3596.37M1153.6 3594.35L1157.87 3593.71L1162.13 3593.07L1166.4 3592.44M1179.7 3590.47L1183.97 3589.84L1188.23 3589.21L1192.5 3588.59M1205.8 3586.66L1210.07 3586.04L1214.33 3585.43L1218.6 3584.82M1231.9 3582.93L1236.17 3582.33L1240.43 3581.73L1244.7 3581.13M1258 3579.28L1262.27 3578.69L1266.53 3578.11L1270.8 3577.52M1284.1 3575.71L1288.37 3575.13L1292.63 3574.55L1296.9 3573.98M1310.2 3572.2L1314.47 3571.63L1318.73 3571.07L1323 3570.5M1336.3 3568.76L1340.57 3568.2L1344.83 3567.64L1349.1 3567.09M1362.4 3565.37L1366.67 3564.83L1370.93 3564.28L1375.2 3563.74M1388.5 3562.05L1392.77 3561.51L1397.03 3560.97L1401.3 3560.44M1414.6 3558.78L1418.87 3558.25L1423.13 3557.72L1427.4 3557.19M1440.7 3555.56L1444.97 3555.03L1449.23 3554.51L1453.5 3553.99M1466.8 3552.38L1471.07 3551.87L1475.33 3551.35L1479.6 3550.84M1492.9 3549.25L1497.17 3548.74L1501.43 3548.23L1505.7 3547.73M1519 3546.15L1523.27 3545.65L1527.53 3545.15L1531.8 3544.65M1545.1 3543.1L1549.37 3542.6L1553.63 3542.1L1557.9 3541.61M1571.2 3540.07L1575.47 3539.58L1579.73 3539.09L1584 3538.6M1597.3 3537.08L1601.57 3536.59L1605.83 3536.11L1610.1 3535.62M1623.4 3534.12L1627.67 3533.64L1631.93 3533.15L1636.2 3532.67M1649.5 3531.18L1653.77 3530.7L1658.03 3530.23L1662.3 3529.75M1675.6 3528.27L1679.87 3527.8L1684.13 3527.32L1688.4 3526.85M1701.7 3525.38L1705.97 3524.91L1710.23 3524.44L1714.5 3523.97M1727.8 3522.51L1732.07 3522.05L1736.33 3521.58L1740.6 3521.11M1753.9 3519.67L1758.17 3519.2L1762.43 3518.74L1766.7 3518.28M1780 3516.84L1784.27 3516.37L1788.53 3515.91L1792.8 3515.45M1806.1 3514.02L1810.37 3513.56L1814.63 3513.11L1818.9 3512.65M1832.2 3511.23L1836.47 3510.77L1840.73 3510.31L1845 3509.86M1858.3 3508.44L1862.57 3507.99L1866.83 3507.54L1871.1 3507.08M1884.4 3505.67L1888.67 3505.22L1892.93 3504.77L1897.2 3504.32M1910.5 3502.92L1914.77 3502.47L1919.03 3502.02L1923.3 3501.57" stroke="#ff0000" stroke-width="4.2" fill="none" stroke-linecap="round" clip-path="url(#pc)"/>
<path d="M214 3713.05L1927 3436.17" stroke="#ff0000" stroke-width="10.6" fill="none"/>
<rect x="214" y="3106" width="1709" height="1140" fill="none" stroke="#000" stroke-width="4"/>
<path d="M279.6 4246v-9.5M411.05 4246v-9.5M411.05 3106v9.5M542.5 4246v-9.5M673.95 4246v-9.5M673.95 3106v9.5M805.4 4246v-9.5M936.85 4246v-9.5M936.85 3106v9.5M1068.3 4246v-9.5M1199.75 4246v-9.5M1199.75 3106v9.5M1331.2 4246v-9.5M1462.65 4246v-9.5M1462.65 3106v9.5M1594.1 4246v-9.5M1725.55 4246v-9.5M1725.55 3106v9.5M1857 4246v-9.5M214 4142.36h9.5M1923 4142.36h-9.5M214 4038.73h9.5M1923 4038.73h-9.5M214 3935.09h9.5M1923 3935.09h-9.5M214 3831.45h9.5M1923 3831.45h-9.5M214 3727.82h9.5M1923 3727.82h-9.5M214 3624.18h9.5M1923 3624.18h-9.5M214 3520.55h9.5M1923 3520.55h-9.5M214 3416.91h9.5M1923 3416.91h-9.5M214 3313.27h9.5M1923 3313.27h-9.5M214 3209.64h9.5M1923 3209.64h-9.5" stroke="#000" stroke-width="4.2" stroke-linecap="round" fill="none"/>
<text class="yt" x="195.5" y="4270">0</text><text class="yt" x="195.5" y="4166.36">2</text><text class="yt" x="195.5" y="4062.73">4</text><text class="yt" x="195.5" y="3959.09">6</text><text class="yt" x="195.5" y="3855.45">8</text><text class="yt" x="195.5" y="3751.82">10</text><text class="yt" x="195.5" y="3648.18">12</text><text class="yt" x="195.5" y="3544.55">14</text><text class="yt" x="195.5" y="3440.91">16</text><text class="yt" x="195.5" y="3337.27">18</text><text class="yt" x="195.5" y="3233.64">20</text><text class="yt" x="195.5" y="3130">22</text>
<text x="173.63" y="1267" style="font-size:51px" textLength="215.17" lengthAdjust="spacingAndGlyphs">Bangkirai</text>
<text x="454.32" y="1267" style="font-size:51px" textLength="174.76" lengthAdjust="spacingAndGlyphs">Meranti</text>
<text x="730" y="1267" style="font-size:51px" textLength="152.75" lengthAdjust="spacingAndGlyphs">Wenge</text>
<text x="1037.19" y="1267" style="font-size:51px" textLength="68.86" lengthAdjust="spacingAndGlyphs">Ipé</text>
<text x="1257.6" y="1267" style="font-size:51px" textLength="146.48" lengthAdjust="spacingAndGlyphs">Sapelli</text>
<text x="1438.4" y="1267" style="font-size:51px" textLength="304.56" lengthAdjust="spacingAndGlyphs">Maçaranduba</text>
<text x="1756.5" y="1267" style="font-size:51px" textLength="190.72" lengthAdjust="spacingAndGlyphs">Bubinga</text>
<text x="352.57" y="1339" style="font-size:51px" textLength="117.49" lengthAdjust="spacingAndGlyphs">Iroko</text>
<text x="545.47" y="1339" style="font-size:51px" textLength="260.67" lengthAdjust="spacingAndGlyphs">Black locust</text>
<text x="843.57" y="1339" style="font-size:51px" textLength="189.58" lengthAdjust="spacingAndGlyphs">Zebrano</text>
<text x="1150.19" y="1339" style="font-size:51px" textLength="93.77" lengthAdjust="spacingAndGlyphs">Oak</text>
<text x="1400.93" y="1339" style="font-size:51px" textLength="136.24" lengthAdjust="spacingAndGlyphs">Beech</text>
<text x="1613.41" y="1339" style="font-size:51px" textLength="211.04" lengthAdjust="spacingAndGlyphs">Palisander</text>
<text x="755" y="1440.5" style="font-size:62px;font-weight:bold" textLength="628.05" lengthAdjust="spacingAndGlyphs">No. of Hardwood (1-13)</text>
<text transform="translate(95.5 842) rotate(-90)" x="-1.02" y="0" style="font-size:61px;font-weight:bold" textLength="434.43" lengthAdjust="spacingAndGlyphs">Adhesion [MPa]</text>
<text x="281.11" y="200.6" style="font-size:77.5px;font-weight:bold" textLength="127.8" lengthAdjust="spacingAndGlyphs">Dry</text>
<text x="280.44" y="1086" style="font-size:61.5px;font-weight:bold" textLength="77.91" lengthAdjust="spacingAndGlyphs">(a)</text>
<text x="686.29" y="976.1" style="font-size:61px;font-weight:bold" textLength="1113.89" lengthAdjust="spacingAndGlyphs">Adhesion = 9.45 + 0.59 * No. of Hardwood</text>
<text x="847" y="1065.7" style="font-size:61px;font-weight:bold">R</text>
<text x="888" y="1037.7" style="font-size:43px">2</text>
<text x="918.91" y="1065.7" style="font-size:61px;font-weight:bold" textLength="150.85" lengthAdjust="spacingAndGlyphs">= 0.60</text>
<text x="1179.04" y="1065.7" style="font-size:61px;font-weight:bold" textLength="227.3" lengthAdjust="spacingAndGlyphs">p = 0.000</text>
<text x="173.63" y="2792" style="font-size:51px" textLength="215.17" lengthAdjust="spacingAndGlyphs">Bangkirai</text>
<text x="454.32" y="2792" style="font-size:51px" textLength="174.76" lengthAdjust="spacingAndGlyphs">Meranti</text>
<text x="730" y="2792" style="font-size:51px" textLength="152.75" lengthAdjust="spacingAndGlyphs">Wenge</text>
<text x="1037.19" y="2792" style="font-size:51px" textLength="68.86" lengthAdjust="spacingAndGlyphs">Ipé</text>
<text x="1257.6" y="2792" style="font-size:51px" textLength="146.48" lengthAdjust="spacingAndGlyphs">Sapelli</text>
<text x="1438.4" y="2792" style="font-size:51px" textLength="304.56" lengthAdjust="spacingAndGlyphs">Maçaranduba</text>
<text x="1756.5" y="2792" style="font-size:51px" textLength="190.72" lengthAdjust="spacingAndGlyphs">Bubinga</text>
<text x="352.57" y="2864" style="font-size:51px" textLength="117.49" lengthAdjust="spacingAndGlyphs">Iroko</text>
<text x="545.47" y="2864" style="font-size:51px" textLength="260.67" lengthAdjust="spacingAndGlyphs">Black locust</text>
<text x="843.57" y="2864" style="font-size:51px" textLength="189.58" lengthAdjust="spacingAndGlyphs">Zebrano</text>
<text x="1150.19" y="2864" style="font-size:51px" textLength="93.77" lengthAdjust="spacingAndGlyphs">Oak</text>
<text x="1400.93" y="2864" style="font-size:51px" textLength="136.24" lengthAdjust="spacingAndGlyphs">Beech</text>
<text x="1613.41" y="2864" style="font-size:51px" textLength="211.04" lengthAdjust="spacingAndGlyphs">Palisander</text>
<text x="755" y="2965.5" style="font-size:62px;font-weight:bold" textLength="628.05" lengthAdjust="spacingAndGlyphs">No. of Hardwood (1-13)</text>
<text transform="translate(95.5 2367) rotate(-90)" x="-1.02" y="0" style="font-size:61px;font-weight:bold" textLength="434.43" lengthAdjust="spacingAndGlyphs">Adhesion [MPa]</text>
<text x="276.71" y="1727.2" style="font-size:79.5px;font-weight:bold" textLength="135.16" lengthAdjust="spacingAndGlyphs">Wet</text>
<text x="321.49" y="2453.1" style="font-size:61.5px;font-weight:bold" textLength="85.41" lengthAdjust="spacingAndGlyphs">(b)</text>
<text x="675.4" y="2166.1" style="font-size:61px;font-weight:bold" textLength="1100.36" lengthAdjust="spacingAndGlyphs">Adhesion = 2.05 − 0.04 * No. of Hardwood</text>
<text x="837" y="2255.7" style="font-size:61px;font-weight:bold">R</text>
<text x="878" y="2227.7" style="font-size:43px">2</text>
<text x="906.79" y="2255.7" style="font-size:61px;font-weight:bold" textLength="146.66" lengthAdjust="spacingAndGlyphs">= 0.06</text>
<text x="1169.54" y="2255.7" style="font-size:61px;font-weight:bold" textLength="227.77" lengthAdjust="spacingAndGlyphs">p = 0.021</text>
<text x="173.63" y="4317" style="font-size:51px" textLength="215.17" lengthAdjust="spacingAndGlyphs">Bangkirai</text>
<text x="454.32" y="4317" style="font-size:51px" textLength="174.76" lengthAdjust="spacingAndGlyphs">Meranti</text>
<text x="730" y="4317" style="font-size:51px" textLength="152.75" lengthAdjust="spacingAndGlyphs">Wenge</text>
<text x="1037.19" y="4317" style="font-size:51px" textLength="68.86" lengthAdjust="spacingAndGlyphs">Ipé</text>
<text x="1257.6" y="4317" style="font-size:51px" textLength="146.48" lengthAdjust="spacingAndGlyphs">Sapelli</text>
<text x="1438.4" y="4317" style="font-size:51px" textLength="304.56" lengthAdjust="spacingAndGlyphs">Maçaranduba</text>
<text x="1756.5" y="4317" style="font-size:51px" textLength="190.72" lengthAdjust="spacingAndGlyphs">Bubinga</text>
<text x="352.57" y="4389" style="font-size:51px" textLength="117.49" lengthAdjust="spacingAndGlyphs">Iroko</text>
<text x="545.47" y="4389" style="font-size:51px" textLength="260.67" lengthAdjust="spacingAndGlyphs">Black locust</text>
<text x="843.57" y="4389" style="font-size:51px" textLength="189.58" lengthAdjust="spacingAndGlyphs">Zebrano</text>
<text x="1150.19" y="4389" style="font-size:51px" textLength="93.77" lengthAdjust="spacingAndGlyphs">Oak</text>
<text x="1400.93" y="4389" style="font-size:51px" textLength="136.24" lengthAdjust="spacingAndGlyphs">Beech</text>
<text x="1613.41" y="4389" style="font-size:51px" textLength="211.04" lengthAdjust="spacingAndGlyphs">Palisander</text>
<text x="755" y="4490.5" style="font-size:62px;font-weight:bold" textLength="628.05" lengthAdjust="spacingAndGlyphs">No. of Hardwood (1-13)</text>
<text transform="translate(95.5 3892) rotate(-90)" x="-1.02" y="0" style="font-size:61px;font-weight:bold" textLength="434.43" lengthAdjust="spacingAndGlyphs">Adhesion [MPa]</text>
<text x="269.28" y="3252.4" style="font-size:78px;font-weight:bold" textLength="517.74" lengthAdjust="spacingAndGlyphs">Re-conditioned</text>
<text x="268.45" y="4132.9" style="font-size:61.5px;font-weight:bold" textLength="76.19" lengthAdjust="spacingAndGlyphs">(c)</text>
<text x="677.48" y="4022.7" style="font-size:61px;font-weight:bold" textLength="1146.18" lengthAdjust="spacingAndGlyphs">Adhesion = 10.08 + 0.41 * No. of Hardwood</text>
<text x="839" y="4112.2" style="font-size:61px;font-weight:bold">R</text>
<text x="880" y="4084.2" style="font-size:43px">2</text>
<text x="910.97" y="4112.2" style="font-size:61px;font-weight:bold" textLength="147.63" lengthAdjust="spacingAndGlyphs">= 0.21</text>
<text x="1172.54" y="4112.2" style="font-size:61px;font-weight:bold" textLength="226.29" lengthAdjust="spacingAndGlyphs">p = 0.000</text>
</svg>
</body></html>
